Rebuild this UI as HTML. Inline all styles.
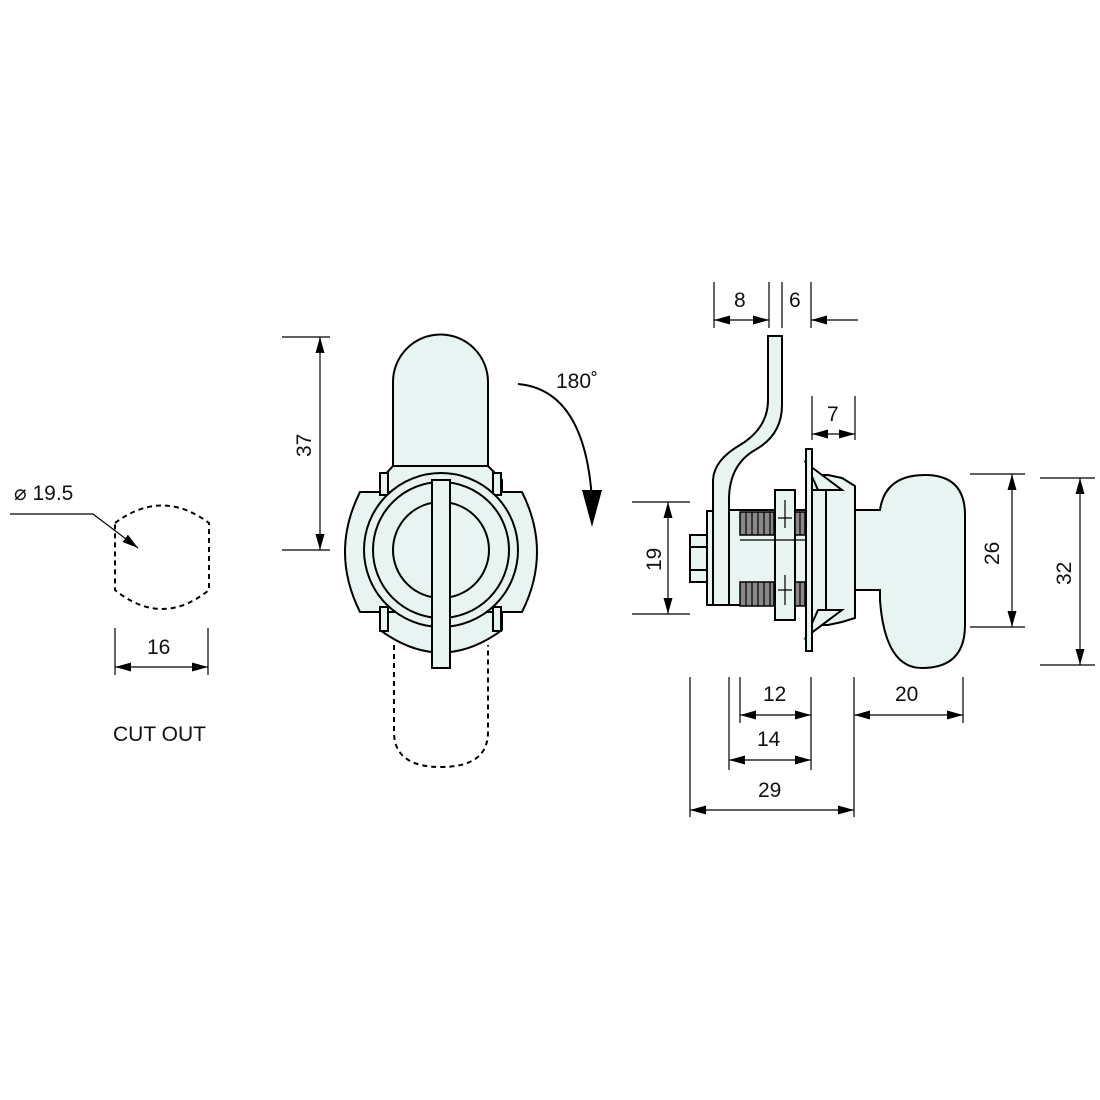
<!DOCTYPE html>
<html><head><meta charset="utf-8"><style>
html,body{margin:0;padding:0;background:#fff;}
svg{display:block;font-family:"Liberation Sans",sans-serif;}
</style></head><body>
<svg width="1100" height="1100" viewBox="0 0 1100 1100" xmlns="http://www.w3.org/2000/svg">
<defs>
<marker id="a" viewBox="0 0 10 10" refX="10" refY="5" markerWidth="16" markerHeight="9" markerUnits="userSpaceOnUse" orient="auto-start-reverse" preserveAspectRatio="none"><path d="M0,0L10,5L0,10z" fill="#000"/></marker>
</defs>
<g fill="none" stroke="#000" stroke-width="1.2">
<path d="M115,523 Q162,488 209,523 L209,590 Q162,628 115,590 Z" stroke-width="2" stroke-dasharray="5,4"/>
<path d="M10,514 L93,514 L138,548" marker-end="url(#a)"/>
<line x1="115" y1="628" x2="115" y2="675"/><line x1="208" y1="628" x2="208" y2="675"/>
<line x1="115" y1="667" x2="208" y2="667" marker-start="url(#a)" marker-end="url(#a)"/>
<line x1="282" y1="337" x2="330" y2="337"/><line x1="282" y1="550" x2="330" y2="550"/>
<line x1="320" y1="337" x2="320" y2="550" marker-start="url(#a)" marker-end="url(#a)"/>
<path d="M518,384 Q585,390 592,500" stroke-width="2"/>
<path d="M582,490 L602,490 L592,527 Z" fill="#000" stroke="none"/>
<path d="M394,645 L394,732 Q394,767 441,767 Q488,767 488,732 L488,645" stroke-width="2" stroke-dasharray="5,4"/>
</g>
<g fill="#e8f4f2" stroke="#000" stroke-width="2">
<path d="M393,382 A47,47 0 0 1 488,382 L488,500 L393,500 Z"/>
<path d="M393,466 L380,480 L380,500 L502,500 L502,480 L488,466 Z"/>
<path d="M380,600 L380,630 Q441,675 502,630 L502,600 Z"/>
<path d="M360,492 L522,492 Q552,552 522,612 L360,612 Q330,552 360,492 Z"/>
<rect x="380" y="473" width="8" height="22"/><rect x="493" y="473" width="8" height="22"/>
<rect x="380" y="607" width="8" height="24"/><rect x="493" y="607" width="8" height="24"/>
<circle cx="441" cy="550" r="77"/>
<circle cx="441" cy="550" r="68"/>
<circle cx="441" cy="550" r="48"/>
<rect x="432" y="480" width="18" height="188"/>
</g>
<g fill="#e8f4f2" stroke="#000" stroke-width="2">
<path d="M855,510 L880,510 Q885,475 925,475 Q965,475 965,515 L965,625 Q965,668 922,668 Q885,668 880,600 L880,590 L855,590 Z"/>
<path d="M812,475 L828,475 L842,478 L855,486 L855,618 L842,622 L828,625 L812,625 Z"/>
<path d="M806,463 L842,490 L818,490 Z M806,637 L842,610 L818,610 Z"/>
<rect x="806" y="449" width="6" height="202"/>
<line x1="812" y1="490" x2="826" y2="490"/><line x1="826" y1="490" x2="826" y2="610"/>
<rect x="729" y="510" width="77" height="95"/>
<rect x="707" y="511" width="22" height="94"/>
<rect x="690" y="535" width="17" height="47"/>
<line x1="690" y1="547" x2="707" y2="547"/><line x1="690" y1="570" x2="707" y2="570"/>
<path d="M713,605 L713,480 Q714,460 740,445 Q768,428 768,400 L768,336 L782,336 L782,405 Q782,435 755,450 Q729,465 729,500 L729,605 Z"/>
<rect x="775" y="490" width="20" height="130"/>
</g>
<g stroke="#000" stroke-width="1.5" fill="#888">
<path d="M740,512 L774,512 L774,535 L740,535 Z"/>
<path d="M740,582 L774,582 L774,606 L740,606 Z"/>
<path d="M795,512 L805,512 L805,535 L795,535 Z"/>
<path d="M795,582 L805,582 L805,606 L795,606 Z"/>
</g>
<g stroke="#000" stroke-width="1.2" fill="none">
<path d="M746,512v23M752,512v23M758,512v23M764,512v23M770,512v23M746,582v24M752,582v24M758,582v24M764,582v24M770,582v24M800,512v23M800,582v24"/>
<path d="M785,500v28M778,518h14M785,575v30M778,590h14M740,540h66"/>
<line x1="714" y1="282" x2="714" y2="328"/><line x1="769" y1="282" x2="769" y2="328"/>
<line x1="782" y1="282" x2="782" y2="328"/><line x1="811" y1="282" x2="811" y2="328"/>
<line x1="714" y1="320" x2="769" y2="320" marker-start="url(#a)" marker-end="url(#a)"/>
<line x1="858" y1="320" x2="811" y2="320" marker-end="url(#a)"/>
<line x1="812" y1="396" x2="812" y2="440"/><line x1="855" y1="396" x2="855" y2="440"/>
<line x1="812" y1="434" x2="855" y2="434" marker-start="url(#a)" marker-end="url(#a)"/>
<line x1="632" y1="502" x2="690" y2="502"/><line x1="632" y1="614" x2="690" y2="614"/>
<line x1="668" y1="502" x2="668" y2="614" marker-start="url(#a)" marker-end="url(#a)"/>
<line x1="970" y1="474" x2="1025" y2="474"/><line x1="970" y1="627" x2="1025" y2="627"/>
<line x1="1012" y1="474" x2="1012" y2="627" marker-start="url(#a)" marker-end="url(#a)"/>
<line x1="1040" y1="478" x2="1095" y2="478"/><line x1="1040" y1="665" x2="1095" y2="665"/>
<line x1="1080" y1="478" x2="1080" y2="665" marker-start="url(#a)" marker-end="url(#a)"/>
<line x1="690" y1="677" x2="690" y2="817"/><line x1="729" y1="677" x2="729" y2="770"/>
<line x1="740" y1="677" x2="740" y2="723"/><line x1="811" y1="677" x2="811" y2="770"/>
<line x1="854" y1="677" x2="854" y2="817"/><line x1="963" y1="677" x2="963" y2="723"/>
<line x1="740" y1="715" x2="811" y2="715" marker-start="url(#a)" marker-end="url(#a)"/>
<line x1="729" y1="760" x2="811" y2="760" marker-start="url(#a)" marker-end="url(#a)"/>
<line x1="690" y1="810" x2="854" y2="810" marker-start="url(#a)" marker-end="url(#a)"/>
<line x1="854" y1="715" x2="963" y2="715" marker-start="url(#a)" marker-end="url(#a)"/>
</g>
<g font-size="21" fill="#111">
<text x="14" y="500">⌀ 19.5</text>
<text x="147" y="654">16</text>
<text x="113" y="741">CUT OUT</text>
<text x="556" y="388">180˚</text>
<text x="734" y="307">8</text>
<text x="789" y="307">6</text>
<text x="827" y="421">7</text>
<text x="763" y="701">12</text>
<text x="757" y="746">14</text>
<text x="758" y="797">29</text>
<text x="895" y="701">20</text>
<text transform="translate(311,457) rotate(-90)">37</text>
<text transform="translate(661,571) rotate(-90)">19</text>
<text transform="translate(999,565) rotate(-90)">26</text>
<text transform="translate(1071,585) rotate(-90)">32</text>
</g>
</svg>
</body></html>
